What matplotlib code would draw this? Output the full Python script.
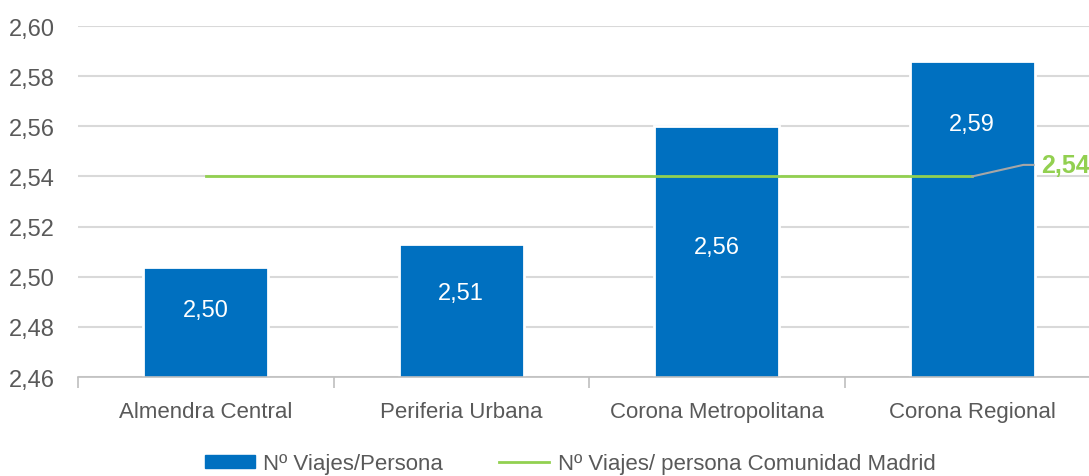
import matplotlib.pyplot as plt
from matplotlib.ticker import FuncFormatter, FixedLocator
from matplotlib.patches import Patch
from matplotlib.lines import Line2D
import numpy as np

categorias = ["Almendra Central", "Periferia Urbana", "Corona Metropolitana", "Corona Regional"]
viajes_persona = [2.504, 2.513, 2.560, 2.586]
etiquetas = ["2,50", "2,51", "2,56", "2,59"]
media_madrid = 2.54
y_ticks = [2.46, 2.48, 2.50, 2.52, 2.54, 2.56, 2.58, 2.60]

plt.rcParams['font.family'] = ['Liberation Sans', 'DejaVu Sans']
gris = '#595959'
azul = '#0070C0'
verde = '#92D050'

fig = plt.figure(figsize=(10.89, 4.77), dpi=100)
ax = fig.add_axes([78 / 1089, 99 / 477, 1022 / 1089, 351 / 477])

x = np.arange(len(categorias))
ax.bar(x, viajes_persona, width=0.49, color=azul, edgecolor='white', linewidth=2, zorder=2)
ax.plot([x[0], x[-1]], [media_madrid, media_madrid], color=verde, lw=2, zorder=3)

# posicion de las etiquetas dentro de cada barra (fraccion de la altura visible)
frac = [0.61, 0.63, 0.52, 0.80]
for xi, v, t, f in zip(x, viajes_persona, etiquetas, frac):
    ax.text(xi, 2.46 + (v - 2.46) * f, t, ha='center', va='center', color='white',
            fontsize=17, zorder=4)

# etiqueta de la media con linea guia
yl = media_madrid + 0.0046
ax.plot([x[-1], x[-1] + 0.2, x[-1] + 0.24], [media_madrid, yl, yl],
        color='#A6A6A6', lw=1.5, zorder=3, clip_on=False)
ax.text(x[-1] + 0.27, yl, f"{media_madrid:.2f}".replace('.', ','),
        ha='left', va='center', color=verde, fontsize=18, fontweight='bold', clip_on=False)

ax.set_xlim(-0.5, 3.5)
ax.set_ylim(2.46, 2.60)
ax.yaxis.set_major_locator(FixedLocator(y_ticks))
ax.yaxis.set_major_formatter(FuncFormatter(lambda v, p: f"{v:.2f}".replace('.', ',')))
ax.grid(axis='y', color='#D9D9D9', lw=1.5, zorder=0)
ax.set_axisbelow(True)

ax.set_xticks(x)
ax.set_xticklabels(categorias)
ax.set_xticks(np.arange(-0.5, 3.6, 1), minor=True)
ax.tick_params(axis='x', which='major', length=0, pad=17, labelsize=16, labelcolor=gris)
ax.tick_params(axis='x', which='minor', length=8, color='#BFBFBF', width=1.2)
ax.tick_params(axis='y', length=0, pad=17, labelsize=17, labelcolor=gris)

for s in ['top', 'right', 'left']:
    ax.spines[s].set_visible(False)
ax.spines['bottom'].set_color('#BFBFBF')
ax.spines['bottom'].set_linewidth(1.2)

handles = [Patch(color=azul), Line2D([0], [0], color=verde, lw=2)]
fig.legend(handles, ["Nº Viajes/Persona", "Nº Viajes/ persona Comunidad Madrid"],
           loc='center', bbox_to_anchor=(570 / 1089, 1 - 465 / 477), ncol=2, frameon=False,
           fontsize=16, labelcolor=gris, handlelength=2.25, handleheight=0.5,
           columnspacing=2.5, handletextpad=0.4)

fig.savefig('out.png', dpi=100)
